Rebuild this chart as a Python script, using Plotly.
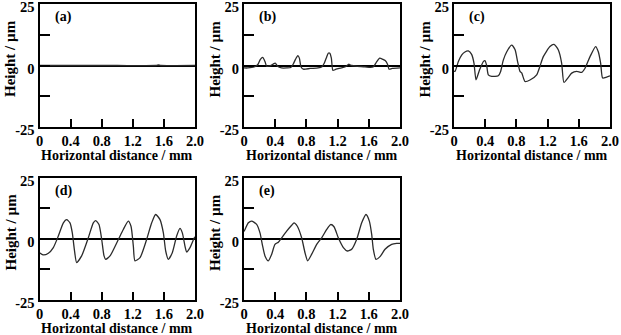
import plotly.graph_objects as go

# ---------------- data ----------------
panel_labels = ["(a)", "(b)", "(c)", "(d)", "(e)"]
x_tick_vals = [0, 0.4, 0.8, 1.2, 1.6, 2.0]
x_tick_text = ["0", "0.4", "0.8", "1.2", "1.6", "2.0"]
y_tick_vals = [-25, -12.5, 0, 12.5, 25]
y_tick_text = ["-25", "", "0", "", "25"]

x_a = [0.0, 0.5, 1.0, 1.5, 1.53, 1.56, 2.0]
y_a = [0.0, 0.0, 0.0, 0.0, 0.2, 0.0, 0.0]

x_b = [0, 0.05, 0.10, 0.15, 0.18, 0.21, 0.24, 0.27, 0.29, 0.33, 0.37, 0.40, 0.43, 0.48, 0.55,
       0.60, 0.63, 0.66, 0.69, 0.71, 0.73, 0.76, 0.85, 0.95, 1.00, 1.03, 1.06, 1.08, 1.10,
       1.12, 1.14, 1.18, 1.25, 1.30, 1.34, 1.38, 1.45, 1.55, 1.62, 1.66, 1.70, 1.74, 1.78,
       1.81, 1.84, 1.86, 1.90, 2.0]
y_b = [-1, -1, -0.8, -0.3, 0.5, 2.5, 3.3, 1.5, -0.3, -0.2, 0.5, 1.0, -0.3, -1, -1,
       -0.8, 0.5, 2.5, 4, 3, -0.5, -1.5, -1.2, -1, -0.5, 1, 3.5, 5, 5,
       3, -2, -1.5, -1, -0.5, 0.5, 0, -0.3, -0.5, -0.8, -0.5, 1.5, 3, 2.5,
       2, 0.5, -1.5, -1.2, -1]

x_c = [0.0, 0.013, 0.056, 0.10, 0.14, 0.184, 0.226, 0.256, 0.282, 0.325, 0.376, 0.397, 0.419,
       0.44, 0.483, 0.568, 0.598, 0.632, 0.675, 0.739, 0.782, 0.816, 0.846, 0.868, 0.91,
       0.974, 1.06, 1.10, 1.145, 1.23, 1.282, 1.338, 1.38, 1.41, 1.466, 1.509, 1.573,
       1.637, 1.68, 1.744, 1.816, 1.85, 1.88, 1.906, 1.957, 2.0]
y_c = [-2.2, -2.4, 1.6, 4.3, 5.5, 5.9, 4.5, 1.0, -5.8, -2.0, 1.6, 2.0, 0.0,
       -3.8, -4.4, -4.2, -2.4, 2.2, 5.5, 8.3, 6.5, 1.5, -2.4, -3.0, -6.5,
       -5.9, -3.8, -0.5, 3.6, 7.7, 8.6, 6.3, 1.0, -6.9, -4.8, -3.1, -2.4,
       -2.8, -1.1, 3.6, 7.7, 5.6, 1.0, -5.1, -4.7, -4.2]

x_d = [0.0, 0.049, 0.114, 0.178, 0.242, 0.307, 0.349, 0.392, 0.422, 0.448, 0.478, 0.542,
       0.628, 0.692, 0.722, 0.765, 0.80, 0.83, 0.851, 0.907, 1.014, 1.078, 1.142, 1.177,
       1.207, 1.228, 1.293, 1.378, 1.443, 1.494, 1.55, 1.593, 1.623, 1.657, 1.708, 1.764,
       1.807, 1.837, 1.871, 1.893, 1.936, 1.991, 2.0]
y_d = [-5.7, -6.6, -5.9, -3.6, 1.1, 6.5, 7.8, 6.5, 2.4, -4.3, -9.7, -7.0,
       0.4, 6.5, 7.4, 5.8, -0.3, -7.0, -8.4, -7.0, -0.3, 3.8, 7.2, 5.1,
       -3.0, -9.0, -7.7, -0.3, 6.5, 9.9, 7.8, 2.4, -5.0, -8.4, -5.7, 1.1,
       4.2, 2.4, -3.0, -5.4, -3.6, 0.4, 0.8]

x_e = [0.0, 0.013, 0.056, 0.098, 0.162, 0.205, 0.239, 0.269, 0.312, 0.355, 0.397, 0.44,
       0.483, 0.547, 0.611, 0.641, 0.684, 0.739, 0.782, 0.816, 0.868, 0.932, 0.996, 1.06,
       1.111, 1.154, 1.209, 1.274, 1.325, 1.38, 1.444, 1.509, 1.564, 1.607, 1.637, 1.658,
       1.692, 1.744, 1.808, 1.893, 1.957, 2.0]
y_e = [3.0, 3.8, 6.5, 7.2, 5.9, 2.4, -3.0, -7.0, -9.0, -6.3, -2.3, -1.4,
       0.4, 3.1, 5.5, 6.5, 5.1, 0.4, -5.7, -9.0, -6.3, -2.3, 0.4, 3.8,
       5.8, 4.9, 0.4, -3.6, -5.0, -4.3, -0.3, 6.5, 9.9, 7.2, 1.8, -4.3,
       -8.4, -7.3, -4.3, -2.3, -1.9, -1.9]

series_x = [x_a, x_b, x_c, x_d, x_e]
series_y = [y_a, y_b, y_c, y_d, y_e]

# ---------------- layout ----------------
W, H = 621, 335
FONT = "Liberation Serif"
# pixel boxes (left, right, top, bottom)
boxes = [
    (39.5, 195, 4, 127),
    (244, 400, 4, 127),
    (454, 610, 4, 127),
    (39.5, 195, 177.5, 300),
    (244, 400, 177.5, 300),
]

fig = go.Figure()
layout = dict(
    width=W, height=H, autosize=False,
    margin=dict(l=0, r=0, t=0, b=0, pad=0, autoexpand=False),
    paper_bgcolor="white", plot_bgcolor="white",
    showlegend=False,
    font=dict(family=FONT, size=14, color="black", weight="bold"),
)
annotations = []
for i in range(5):
    l, r, t, b = boxes[i]
    xn = "x" if i == 0 else f"x{i+1}"
    yn = "y" if i == 0 else f"y{i+1}"
    fig.add_trace(go.Scatter(
        x=series_x[i], y=series_y[i], mode="lines",
        line=dict(color="#2b2b2b", width=1.3, shape="spline", smoothing=0.6),
        xaxis=xn, yaxis=yn, hoverinfo="skip",
    ))
    xk = "xaxis" if i == 0 else f"xaxis{i+1}"
    yk = "yaxis" if i == 0 else f"yaxis{i+1}"
    layout[xk] = dict(
        domain=[l / W, r / W], anchor=yn, range=[0, 2], automargin=False,
        showgrid=False, zeroline=False,
        showline=True, mirror=True, linecolor="black", linewidth=2,
        ticks="inside", ticklen=8, tickwidth=2, tickcolor="black",
        tickvals=x_tick_vals, ticktext=x_tick_text, ticklabeloverflow="allow",
        tickfont=dict(family=FONT, size=14.5, color="black", weight="bold"),
        fixedrange=True,
    )
    layout[yk] = dict(
        domain=[1 - b / H, 1 - t / H], anchor=xn, range=[-25, 25], automargin=False,
        showgrid=False, zeroline=True, zerolinecolor="black", zerolinewidth=2,
        showline=True, mirror=True, linecolor="black", linewidth=2,
        ticks="inside", ticklen=10, tickwidth=2, tickcolor="black",
        tickvals=y_tick_vals, ticktext=y_tick_text, ticklabeloverflow="allow",
        ticklabelshift=3,
        tickfont=dict(family=FONT, size=14.5, color="black", weight="bold"),
        fixedrange=True,
    )
    # panel label
    annotations.append(dict(
        text=panel_labels[i], xref="paper", yref="paper",
        x=(l + 13) / W, y=1 - (t + 13) / H, xanchor="left", yanchor="middle",
        showarrow=False, font=dict(family=FONT, size=14, color="black", weight="bold"),
    ))
    # x title
    annotations.append(dict(
        text="Horizontal distance / mm", xref="paper", yref="paper",
        x=(l + r) / 2 / W, y=1 - (b + 28.5) / H, xanchor="center", yanchor="middle",
        showarrow=False, font=dict(family=FONT, size=14, color="black", weight="bold"),
    ))
    # y title
    annotations.append(dict(
        text="Height / µm", xref="paper", yref="paper",
        x=(l - 29.5) / W, y=1 - (t + 55) / H, xanchor="center", yanchor="middle",
        textangle=-90,
        showarrow=False, font=dict(family=FONT, size=15, color="black", weight="bold"),
    ))
layout["annotations"] = annotations
fig.update_layout(**layout)
fig.write_html(
    "out.html",
    config={"displayModeBar": False},
    post_script="document.body.style.margin='0';document.documentElement.style.margin='0';",
)
